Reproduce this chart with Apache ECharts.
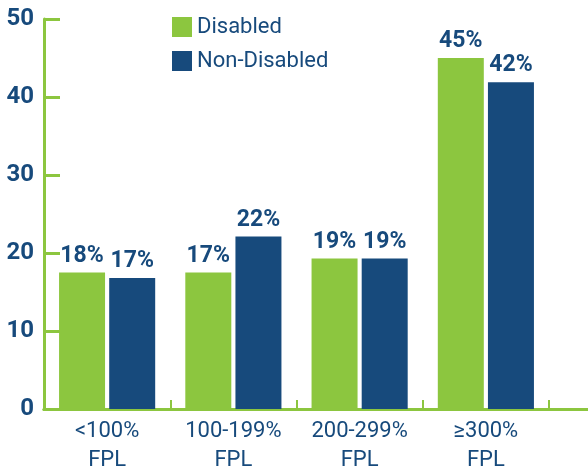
<!DOCTYPE html>
<html>
<head>
<meta charset="utf-8">
<script src="https://cdn.jsdelivr.net/npm/echarts@6/dist/echarts.min.js"></script>
<style>
html,body{margin:0;padding:0;background:#fff;}
#chart{width:588px;height:469px;}
</style>
</head>
<body>
<div id="chart"></div>
<script>
const categories = ['<100%\nFPL', '100-199%\nFPL', '200-299%\nFPL', '≥300%\nFPL'];
const disabled = [17.5, 17.5, 19.3, 45.0];
const nonDisabled = [16.8, 22.1, 19.3, 41.9];
const disabledLabels = ['18%', '17%', '19%', '45%'];
const nonDisabledLabels = ['17%', '22%', '19%', '42%'];
const yTicks = [0, 10, 20, 30, 40, 50];

const GREEN = '#8cc63f';
const NAVY = '#174a7c';
const FONT = '"Liberation Sans Narrow", "Roboto", sans-serif';

const chart = echarts.init(document.getElementById('chart'));
const labelStyle = (texts) => ({
  show: true,
  position: 'top',
  distance: 5,
  color: NAVY,
  fontFamily: FONT,
  fontWeight: 'bold',
  fontSize: 23,
  formatter: p => texts[p.dataIndex]
});
chart.setOption({
  animation: false,
  backgroundColor: '#fff',
  textStyle: { fontFamily: FONT },
  legend: {
    orient: 'vertical',
    left: 167,
    top: 11,
    itemWidth: 20,
    itemHeight: 20,
    itemGap: 12,
    icon: 'rect',
    textStyle: { color: NAVY, fontSize: 22, fontFamily: FONT, lineHeight: 22 },
    data: ['Disabled', 'Non-Disabled']
  },
  grid: [
    { left: 44, right: 39, top: 19, bottom: 60, outerBoundsMode: 'none', containLabel: false },
    { left: 44, right: 0, top: 19, bottom: 60, outerBoundsMode: 'none', containLabel: false }
  ],
  xAxis: [
    {
      type: 'category',
      data: categories,
      gridIndex: 0,
      axisLine: { lineStyle: { color: GREEN, width: 3 } },
      axisTick: { show: true, inside: true, length: 9, lineStyle: { color: GREEN, width: 2 } },
      axisLabel: { color: NAVY, fontSize: 22, fontFamily: FONT, lineHeight: 29, margin: 8, interval: 0 }
    },
    {
      type: 'value',
      gridIndex: 1,
      axisLine: { show: true, lineStyle: { color: GREEN, width: 3 } },
      axisTick: { show: false },
      axisLabel: { show: false },
      splitLine: { show: false }
    }
  ],
  yAxis: [
    {
      type: 'value',
      gridIndex: 0,
      min: yTicks[0],
      max: yTicks[yTicks.length - 1],
      interval: 10,
      splitLine: { show: false },
      axisLine: { show: true, lineStyle: { color: GREEN, width: 3 } },
      axisTick: { show: true, inside: true, length: 16, lineStyle: { color: GREEN, width: 3 } },
      axisLabel: { color: NAVY, fontSize: 24, fontWeight: 'bold', fontFamily: FONT, margin: 10 }
    },
    {
      type: 'value',
      gridIndex: 1,
      min: yTicks[0],
      max: yTicks[yTicks.length - 1],
      show: false
    }
  ],
  series: [
    {
      name: 'Disabled', type: 'bar', data: disabled,
      xAxisIndex: 0, yAxisIndex: 0,
      barWidth: 46, barGap: '9%',
      itemStyle: { color: GREEN },
      label: labelStyle(disabledLabels)
    },
    {
      name: 'Non-Disabled', type: 'bar', data: nonDisabled,
      xAxisIndex: 0, yAxisIndex: 0,
      barWidth: 46, barGap: '9%',
      itemStyle: { color: NAVY },
      label: labelStyle(nonDisabledLabels)
    }
  ]
});
</script>
</body>
</html>
